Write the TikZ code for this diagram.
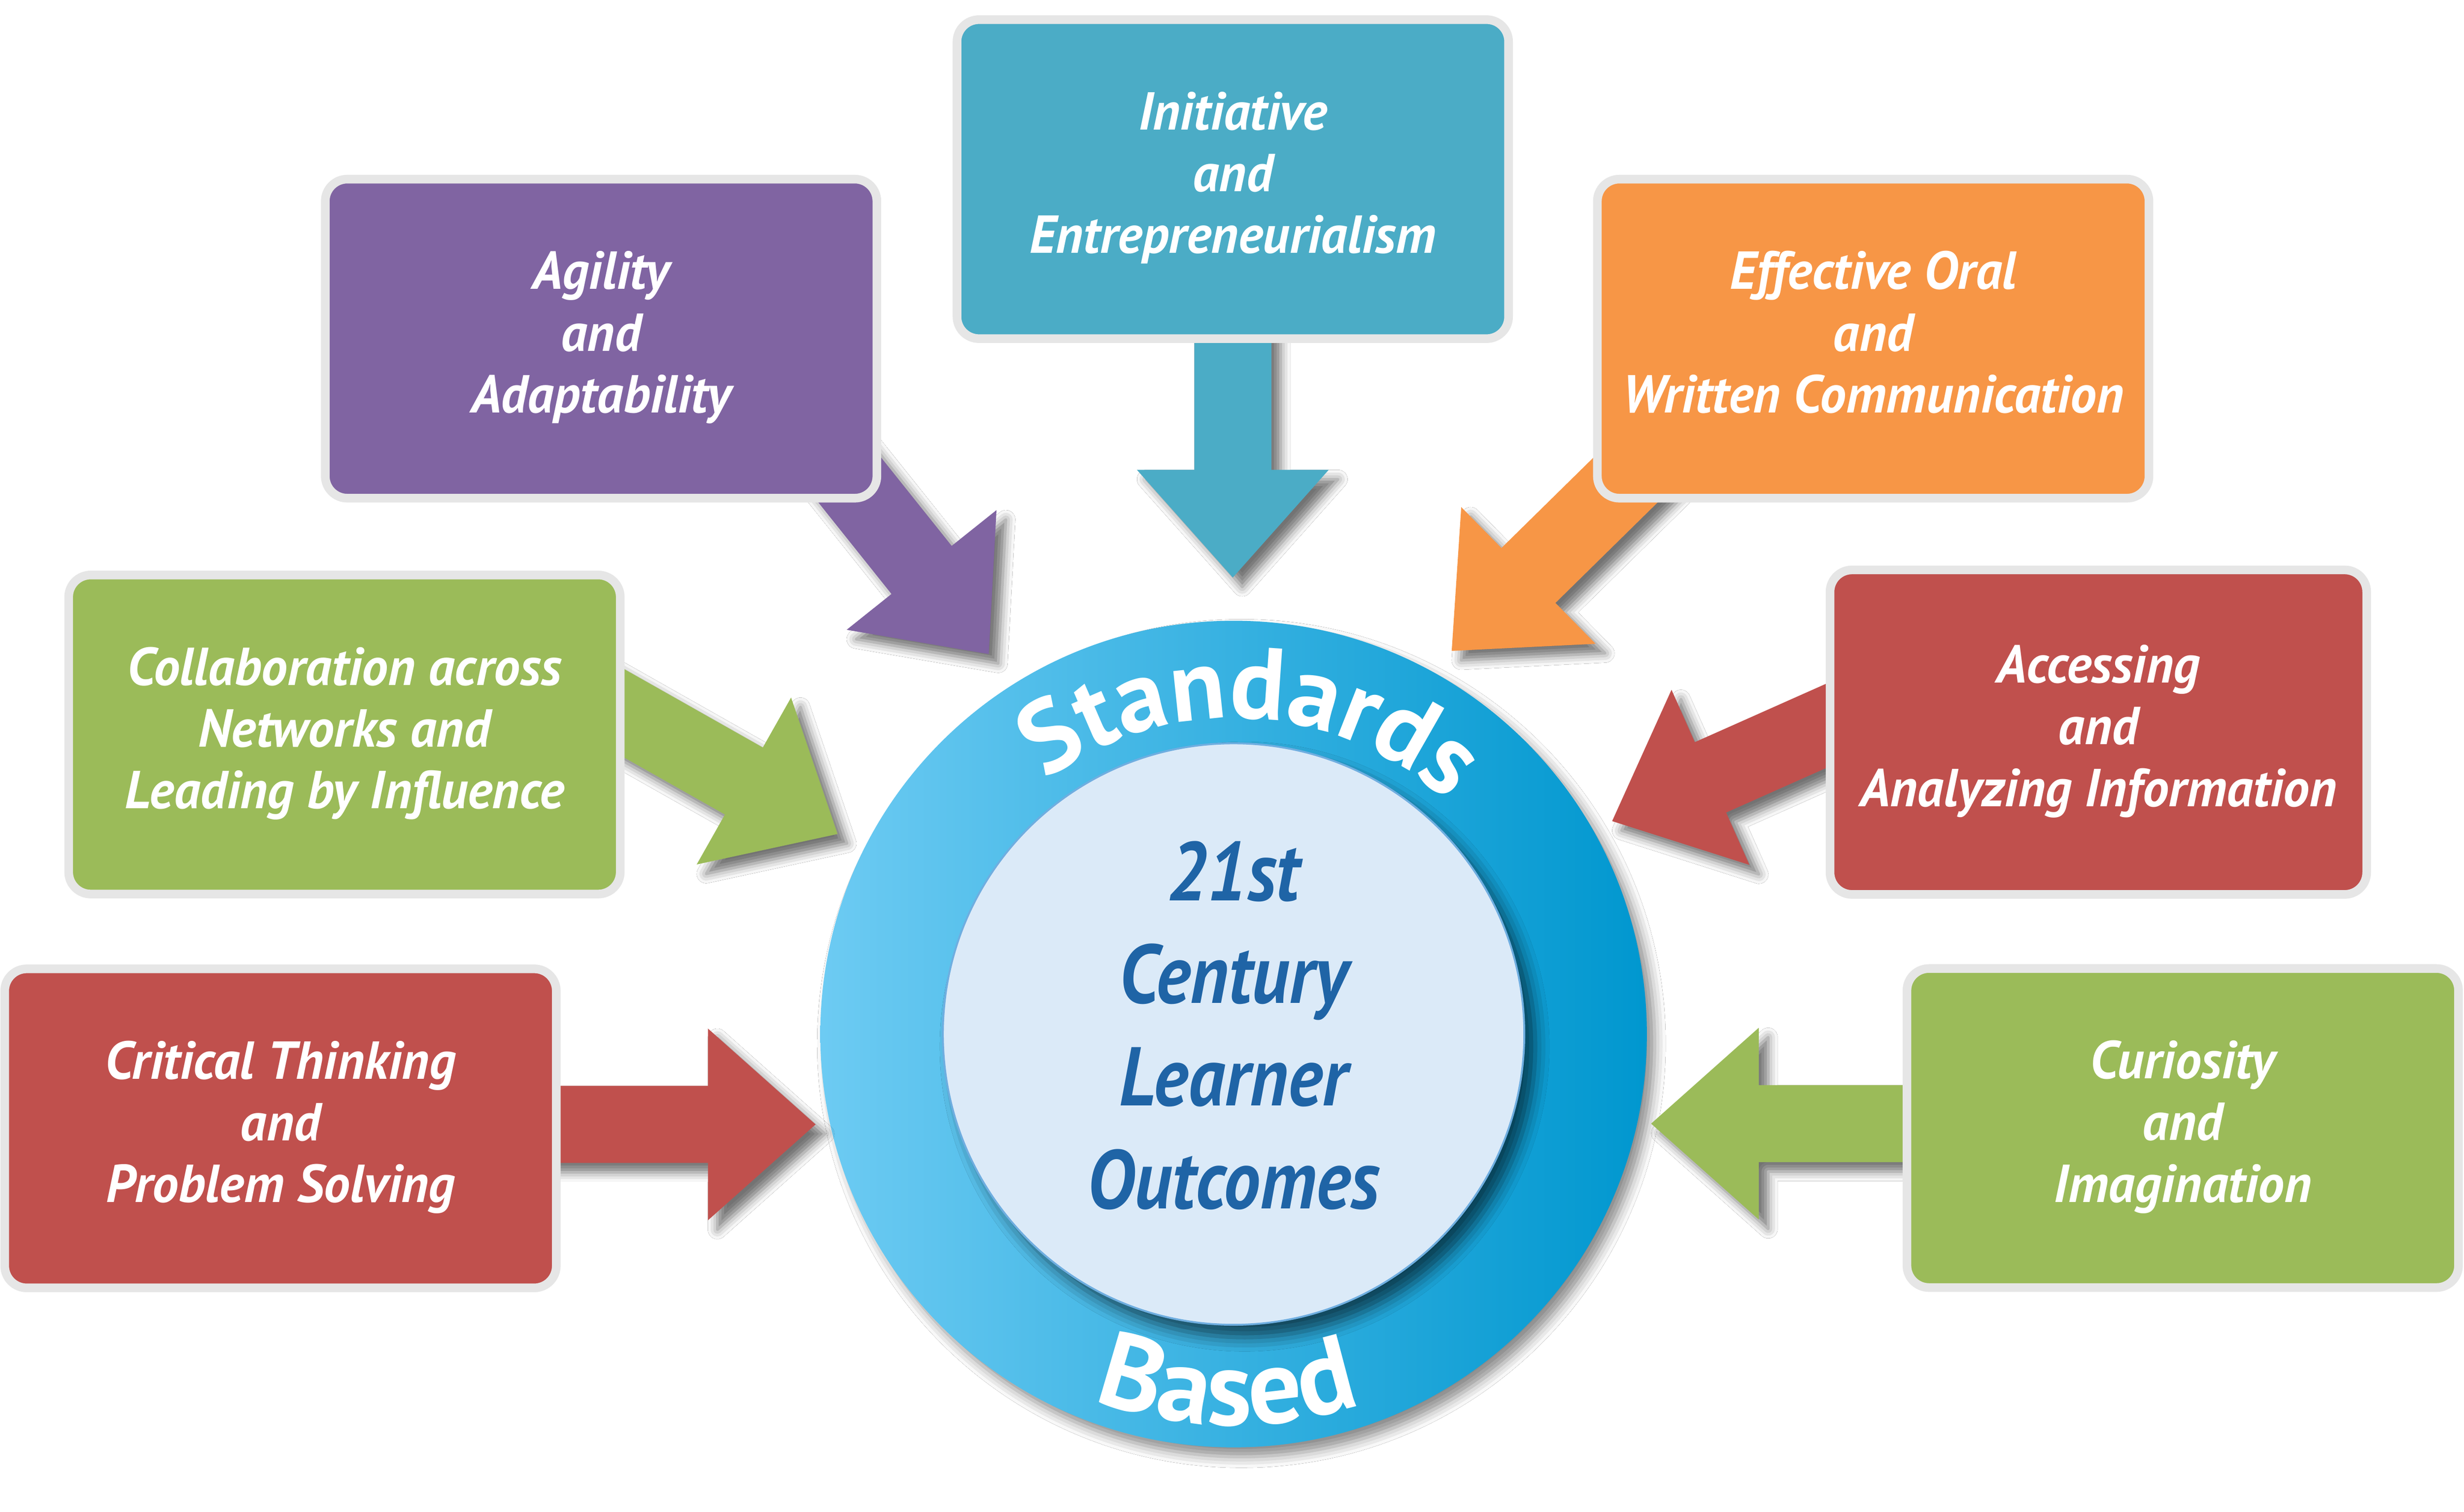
\documentclass[tikz,border=0pt]{standalone}
\usepackage{fontspec}
\setmainfont{PT Sans}
\newfontfamily\boxfont{PT Sans}[FakeStretch=0.88]
\newfontfamily\labelfont{PT Sans}[FakeStretch=0.98]
\usetikzlibrary{calc,shadows,decorations.text}
\IfFileExists{tikzlibraryshadows.blur.code.tex}{%
  \usetikzlibrary{shadows.blur}%
  \tikzset{
    arrshadow/.style={blur shadow={shadow xshift=6pt, shadow yshift=-6pt, shadow blur radius=6pt, shadow opacity=55}},
    circshadow/.style={blur shadow={shadow xshift=7pt, shadow yshift=-8pt, shadow blur radius=9pt, shadow opacity=60}},
    outshadow/.style={blur shadow={shadow xshift=5pt, shadow yshift=-6pt, shadow blur radius=7pt, shadow opacity=45}}
  }%
}{%
  \tikzset{
    arrshadow/.style={drop shadow={shadow xshift=5pt, shadow yshift=-5pt, opacity=0.35, fill=black}},
    circshadow/.style={drop shadow={shadow xshift=6pt, shadow yshift=-7pt, opacity=0.35, fill=black}},
    outshadow/.style={drop shadow={shadow xshift=5pt, shadow yshift=-5pt, opacity=0.25, fill=black}}
  }%
}
\definecolor{cpurple}{HTML}{8064A2}
\definecolor{cteal}{HTML}{4BACC6}
\definecolor{corange}{HTML}{F79646}
\definecolor{cgreen}{HTML}{9BBB59}
\definecolor{cred}{HTML}{C0504D}
\definecolor{cborder}{HTML}{E6E6E6}
\definecolor{cringL}{HTML}{6DCBF3}
\definecolor{cringR}{HTML}{0097CF}
\definecolor{cinner}{HTML}{DBEAF8}
\definecolor{cinedge}{HTML}{6FAEE0}
\definecolor{ctext}{HTML}{1F64A6}
\newcommand\blkarrow[3]{%
  \coordinate (arrbase) at ($(#3)!68.5pt!(#2)$);
  \fill[#1] (#3)
    -- ($(arrbase)!61pt!90:(#2)$)
    -- ($(arrbase)!24.5pt!90:(#2)$)
    -- ($(#2)!24.5pt!-90:(#3)$)
    -- ($(#2)!24.5pt!90:(#3)$)
    -- ($(arrbase)!24.5pt!-90:(#2)$)
    -- ($(arrbase)!61pt!-90:(#2)$)
    -- cycle;}
\tikzset{
  infobox/.style={draw=cborder, line width=5.5pt, rounded corners=14pt, inner sep=0pt,
    minimum width=351pt, minimum height=203pt, text=white, align=center,
    font=\labelfont\bfseries\itshape\fontsize{34}{39.3}\selectfont},
  blockarrow/.style={fill=#1, arrshadow}
}
\begin{document}
\begin{tikzpicture}[x=1pt,y=1pt]
\useasboundingbox (0,0) rectangle (1568,962);
\fill[white] (0,0) rectangle (1568,962);
% central circles
\node[circle, minimum size=526pt, inner sep=0pt, left color=cringL, right color=cringR, outshadow] (outer) at (785,304) {};
\node[circle, minimum size=370pt, inner sep=0pt, fill=cinner, draw=cinedge, line width=1.2pt, circshadow,
  text=ctext, align=center, font=\boxfont\bfseries\itshape\fontsize{53}{65.3}\selectfont] (inner) at (785,304)
  {\strut 21st\\\strut Century\\\strut Learner\\\strut Outcomes};
\path[decorate, decoration={text along path, text align=center, text color=white,
  text={|\fontsize{65}{65}\selectfont\bfseries|Standards}}]
  ($(outer.center)+(147:201pt)$) arc[start angle=147, end angle=27, radius=201pt];
\path[decorate, decoration={text along path, text align=center, text color=white,
  text={|\fontsize{68}{68}\selectfont\bfseries|Based}}]
  ($(outer.center)+(229:249pt)$) arc[start angle=229, end angle=309, radius=249pt];
% arrow end points
\coordinate (t1) at (473.2,741.1); \coordinate (p1) at (629.2,545.8);
\coordinate (t2) at (784.5,848);   \coordinate (p2) at (784.5,594.5);
\coordinate (t3) at (1102.1,723.1);\coordinate (p3) at (923.8,547.8);
\coordinate (t4) at (315.5,554.3); \coordinate (p4) at (533,431.3);
\coordinate (t5) at (1300,561.5);  \coordinate (p5) at (1025.9,439.5);
\coordinate (t6) at (250,246.5);   \coordinate (p6) at (519,246.5);
\coordinate (t7) at (1300,247);    \coordinate (p7) at (1050.7,247);
\blkarrow{blockarrow=cpurple}{t1}{p1}
\blkarrow{blockarrow=cteal}{t2}{p2}
\blkarrow{blockarrow=corange}{t3}{p3}
\blkarrow{blockarrow=cgreen}{t4}{p4}
\blkarrow{blockarrow=cred}{t5}{p5}
\blkarrow{blockarrow=cred}{t6}{p6}
\blkarrow{blockarrow=cgreen}{t7}{p7}
% boxes
\node[infobox, fill=cpurple] (agility) at (382.5,746.5) {\strut Agility\\\strut and\\\strut Adaptability};
\node[infobox, fill=cteal] (initiative) at (784.5,848) {\strut Initiative\\\strut and\\\strut Entrepreneurialism};
\node[infobox, fill=corange] (oral) at (1192,746.5) {\strut Effective Oral\\\strut and\\\strut Written Communication};
\node[infobox, fill=cgreen] (collab) at (219.2,494.6) {\strut Collaboration across\\\strut Networks and\\\strut Leading by Influence};
\node[infobox, fill=cred, minimum width=341.5pt, minimum height=206.5pt] (access) at (1335.3,496.1) {\strut Accessing\\\strut and\\\strut Analyzing Information};
\node[infobox, fill=cred] (critical) at (178.5,244) {\strut Critical Thinking\\\strut and\\\strut Problem Solving};
\node[infobox, fill=cgreen] (curiosity) at (1389,244.2) {\strut Curiosity\\\strut and\\\strut Imagination};
\end{tikzpicture}
\end{document}
